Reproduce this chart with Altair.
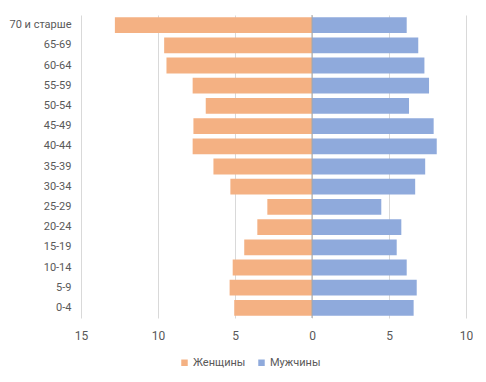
import altair as alt
import pandas as pd

ages = ["70 и старше", "65-69", "60-64", "55-59", "50-54", "45-49", "40-44",
        "35-39", "30-34", "25-29", "20-24", "15-19", "10-14", "5-9", "0-4"]
women = [12.8, 9.6, 9.45, 7.75, 6.9, 7.7, 7.75, 6.4, 5.3, 2.9, 3.55, 4.4, 5.15, 5.35, 5.05]
men = [6.15, 6.9, 7.3, 7.6, 6.3, 7.9, 8.1, 7.35, 6.7, 4.5, 5.8, 5.5, 6.15, 6.8, 6.6]
series = ["Женщины", "Мужчины"]
colors = ["#F4B183", "#8FAADC"]
ticks = [-15, -10, -5, 0, 5, 10]

rows = []
for a, w, m in zip(ages, women, men):
    rows.append({"age": a, "sex": series[0], "value": -w})
    rows.append({"age": a, "sex": series[1], "value": m})
df = pd.DataFrame(rows)

FONT = "Roboto"
TXT = "#595959"

bars = alt.Chart(df).mark_bar().encode(
    x=alt.X("value:Q", stack=None,
            scale=alt.Scale(domain=[-15, 10], nice=False),
            axis=alt.Axis(values=ticks, labelExpr="format(abs(datum.value), '')",
                          title=None, grid=True, gridColor="#D9D9D9", gridWidth=1,
                          domain=False, ticks=False, tickSize=0, labelPadding=12,
                          labelFlush=False,
                          labelFont=FONT, labelFontSize=12, labelColor=TXT)),
    y=alt.Y("age:N", sort=ages,
            scale=alt.Scale(paddingInner=0.22, paddingOuter=0.11),
            axis=alt.Axis(title=None, domain=False, ticks=False, tickSize=0,
                          labelPadding=10, minExtent=72, maxExtent=72,
                          labelFont=FONT, labelFontSize=11, labelColor=TXT)),
    color=alt.Color("sex:N", sort=series,
                    scale=alt.Scale(domain=series, range=colors),
                    legend=alt.Legend(title=None, orient="none", direction="horizontal",
                                      legendX=98, legendY=342,
                                      symbolType="square", symbolSize=42,
                                      symbolStrokeWidth=0, labelFont=FONT,
                                      labelFontSize=11, labelColor=TXT,
                                      columnPadding=10, labelOffset=3)),
)

zero = alt.Chart(pd.DataFrame({"v": [0]})).mark_rule(color="#A6A6A6", strokeWidth=1).encode(
    x=alt.X("v:Q")
)

chart = alt.layer(bars, zero).properties(
    width=385, height=303,
    padding={"left": 0, "top": 6, "right": 0, "bottom": 0},
).configure_view(stroke=None)

chart.save("out.html", embed_options={"renderer": "svg", "actions": False})
